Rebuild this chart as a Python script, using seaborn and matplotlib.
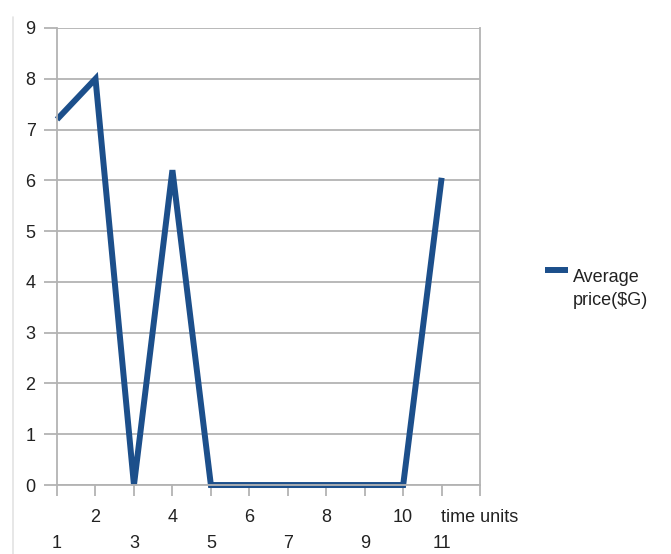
import matplotlib.pyplot as plt
import seaborn as sns
import pandas as pd
from matplotlib.lines import Line2D

# data
time_units = [1, 2, 3, 4, 5, 6, 7, 8, 9, 10, 11]
avg_price = [7.2, 8.0, 0, 6.2, 0, 0, 0, 0, 0, 0, 6.05]
y_ticks = list(range(0, 10))
x_ticks = list(range(1, 13))
top_labels = ['', '2', '', '4', '', '6', '', '8', '', '10', '', 'time units']
odd_ticks = [1, 3, 5, 7, 9, 11]
odd_labels = ['1', '3', '5', '7', '9', '11']

df = pd.DataFrame({'time': time_units, 'price': avg_price})

sns.set_style('white')
plt.rcParams['font.family'] = ['Liberation Sans', 'DejaVu Sans']

grey = '#b3b3b3'
txt = '#222222'
blue = '#1c4f8b'

fig = plt.figure(figsize=(6.71, 5.54), dpi=100)
ax = fig.add_axes([0.085, 0.1245, 0.6305, 0.825])

sns.lineplot(data=df, x='time', y='price', ax=ax, color=blue, linewidth=4.3,
             label='Average\nprice($G)', clip_on=False,
             solid_joinstyle='miter', solid_capstyle='butt')

ax.set_xlim(1, 12)
ax.set_ylim(0, 9)
ax.set_yticks(y_ticks)
ax.yaxis.grid(True, color=grey, linewidth=1.3)
ax.set_axisbelow(True)
ax.set_xlabel('')
ax.set_ylabel('')

for side in ['left', 'bottom', 'right']:
    ax.spines[side].set_color(grey)
    ax.spines[side].set_linewidth(1.3)
ax.spines['top'].set_visible(False)

ax.xaxis.remove_overlapping_locs = False
ax.set_xticks(x_ticks)
ax.set_xticklabels(top_labels)
ax.set_xticks(odd_ticks, minor=True)
ax.set_xticklabels(odd_labels, minor=True)
ax.tick_params(axis='x', which='major', direction='out', length=8, width=1.3,
               color=grey, pad=9.5, labelsize=13, labelcolor=txt, bottom=True)
ax.tick_params(axis='x', which='minor', length=0, pad=36, labelsize=13,
               labelcolor=txt, bottom=True)
ax.tick_params(axis='y', direction='out', length=9.5, width=1.3, color=grey,
               pad=6, labelsize=13, labelcolor=txt, left=True)

leg = ax.legend(loc='center left', bbox_to_anchor=(0.812, 0.479),
                bbox_transform=fig.transFigure, frameon=False, fontsize=13,
                borderpad=0, borderaxespad=0,
                handlelength=1.3, handletextpad=0.25, labelspacing=0.2,
                labelcolor=txt)
leg.get_texts()[0].set_linespacing(1.45)
hl = leg.get_lines()[0]
hl.set_ydata([y + 13.5 for y in hl.get_ydata()])

# faint frame line at the left of the picture
fig.add_artist(Line2D([0.019, 0.019], [0, 0.97], transform=fig.transFigure,
                      color='#e3e3e3', linewidth=1.2))

fig.savefig('out.png', dpi=100)
